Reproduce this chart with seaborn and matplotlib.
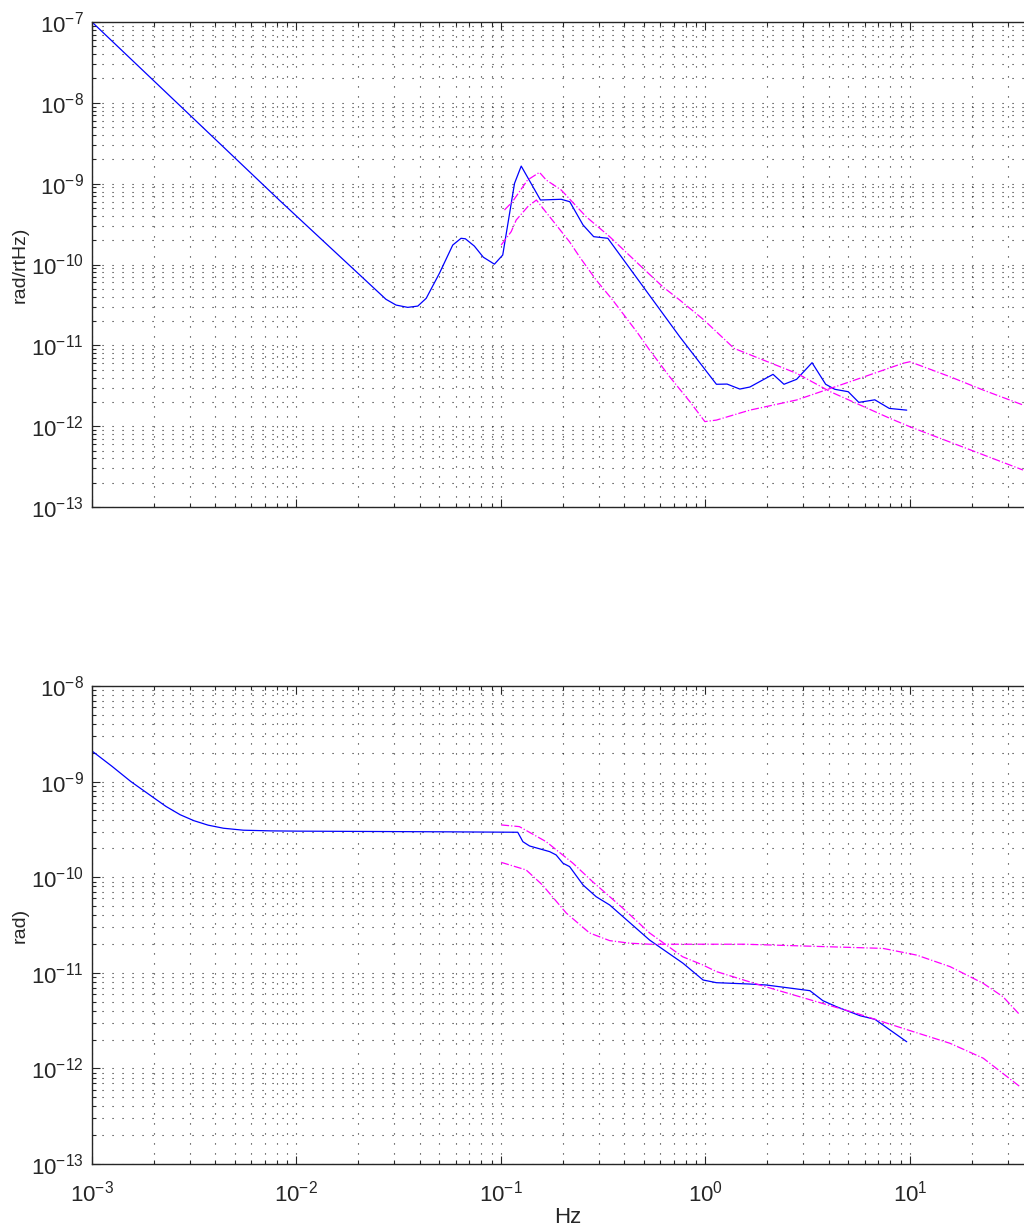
import numpy as np
import pandas as pd
import matplotlib
matplotlib.use("Agg")
import matplotlib.pyplot as plt
from matplotlib.ticker import LogLocator, NullFormatter
import seaborn as sns

sns.set_style("ticks")
plt.rcParams['font.family'] = ['Liberation Sans', 'DejaVu Sans']
plt.rcParams['mathtext.fontset'] = 'custom'
plt.rcParams['mathtext.rm'] = 'Liberation Sans'
plt.rcParams['mathtext.it'] = 'Liberation Sans:italic'
plt.rcParams['mathtext.default'] = 'regular'

# ---- amplitude spectral density (top) ----
asd_f = [0.001, 0.00823, 0.0274, 0.0307, 0.035, 0.0392, 0.0431, 0.050, 0.0581,
         0.0638, 0.067, 0.0741, 0.082, 0.0929, 0.102, 0.1165, 0.1256, 0.156,
         0.197, 0.217, 0.252, 0.284, 0.333, 0.748, 1.131, 1.275, 1.472, 1.647,
         2.14, 2.42, 2.79, 3.32, 3.87, 4.29, 4.99, 5.62, 6.73, 7.92, 9.64]
asd_v = [1e-7, 6.28e-10, 3.71e-11, 3.15e-11, 2.95e-11, 3.06e-11, 3.82e-11,
         7.78e-11, 1.74e-10, 2.11e-10, 2.08e-10, 1.69e-10, 1.23e-10, 1.01e-10,
         1.31e-10, 1.01e-9, 1.65e-9, 6.28e-10, 6.41e-10, 5.98e-10, 3.08e-10,
         2.21e-10, 2.11e-10, 1.28e-11, 3.30e-12, 3.32e-12, 2.88e-12, 3.05e-12,
         4.38e-12, 3.30e-12, 3.80e-12, 6.10e-12, 3.30e-12, 2.86e-12, 2.67e-12,
         1.97e-12, 2.12e-12, 1.66e-12, 1.58e-12]

asd_hi_f = [0.104, 0.1138, 0.1349, 0.1543, 0.1664, 0.197, 0.261, 0.340, 0.476,
            0.618, 0.748, 0.983, 1.379, 2.79, 4.08, 7.98, 10.0, 35.7]
asd_hi_v = [4.72e-10, 5.98e-10, 1.11e-9, 1.38e-9, 1.11e-9, 8.35e-10, 3.90e-10,
            2.21e-10, 9.86e-11, 5.31e-11, 3.64e-11, 2.06e-11, 9.18e-12,
            4.51e-12, 2.67e-12, 1.25e-12, 9.84e-13, 2.87e-13]

asd_lo_f = [0.1002, 0.1122, 0.1187, 0.1352, 0.149, 0.160, 0.183, 0.2164, 0.242,
            0.292, 0.3515, 0.466, 0.533, 0.668, 0.839, 0.993, 1.131, 1.647,
            2.79, 5.09, 9.24, 10.0, 15.7, 22.8, 35.7]
asd_lo_v = [1.74e-10, 2.55e-10, 3.55e-10, 5.19e-10, 6.28e-10, 5.00e-10,
            3.26e-10, 1.91e-10, 1.25e-10, 6.43e-11, 3.64e-11, 1.42e-11,
            8.75e-12, 4.09e-12, 2.01e-12, 1.14e-12, 1.19e-12, 1.58e-12,
            2.11e-12, 3.55e-12, 6.00e-12, 6.27e-12, 4.09e-12, 2.80e-12, 1.83e-12]

# ---- cumulative rms (bottom) ----
rms_f = [0.001, 0.00125, 0.00155, 0.00197, 0.0023, 0.0027, 0.00315, 0.0037,
         0.0044, 0.0055, 0.0075, 0.0103, 0.056, 0.1208, 0.128, 0.138, 0.173,
         0.186, 0.201, 0.2166, 0.252, 0.292, 0.340, 0.533, 0.776, 0.973, 1.131,
         1.647, 1.987, 3.24, 3.75, 4.37, 5.69, 6.74, 9.64]
rms_v = [2.09e-9, 1.45e-9, 1.0e-9, 6.95e-10, 5.5e-10, 4.5e-10, 3.9e-10,
         3.5e-10, 3.25e-10, 3.1e-10, 3.05e-10, 3.03e-10, 2.98e-10, 2.95e-10,
         2.35e-10, 2.12e-10, 1.85e-10, 1.71e-10, 1.40e-10, 1.29e-10, 8.28e-11,
         6.25e-11, 5.12e-11, 2.20e-11, 1.26e-11, 8.41e-12, 7.88e-12, 7.63e-12,
         7.45e-12, 6.50e-12, 5.11e-12, 4.42e-12, 3.56e-12, 3.26e-12, 1.90e-12]

rms_hi_f = [0.1002, 0.123, 0.1664, 0.224, 0.2805, 0.3935, 0.533, 0.774, 0.969,
            1.131, 1.844, 3.49, 5.48, 9.25, 15.7, 22.8, 34.5]
rms_hi_v = [3.52e-10, 3.38e-10, 2.35e-10, 1.41e-10, 8.98e-11, 4.76e-11,
            2.61e-11, 1.47e-11, 1.21e-11, 1.03e-11, 7.45e-12, 4.99e-12,
            3.77e-12, 2.62e-12, 1.83e-12, 1.28e-12, 6.44e-13]

rms_lo_f = [0.1002, 0.1328, 0.1596, 0.2085, 0.271, 0.340, 0.4256, 0.533, 1.556,
            7.38, 10.8, 15.7, 22.8, 28.5, 34.5]
rms_lo_v = [1.43e-10, 1.19e-10, 8.28e-11, 4.22e-11, 2.61e-11, 2.17e-11,
            2.04e-11, 1.99e-11, 1.99e-11, 1.80e-11, 1.53e-11, 1.16e-11,
            7.76e-12, 5.62e-12, 3.62e-12]

x_ticks = [1e-3, 1e-2, 1e-1, 1e0, 1e1]
x_limits = (1e-3, 36.1)

fig = plt.figure(figsize=(10.24, 12.28), dpi=100)
ax1 = fig.add_axes([0.0898, 0.5871, 0.9102, 0.3950])
ax2 = fig.add_axes([0.0898, 0.0521, 0.9102, 0.3893])

grid_kw = dict(color='black', linestyle=(0, (1, 8)), linewidth=0.8, alpha=0.85)


def style_axes(ax, ylim, show_xlabels):
    ax.set_xscale('log')
    ax.set_yscale('log')
    ax.set_xlim(*x_limits)
    ax.set_ylim(*ylim)
    ax.set_xticks(x_ticks)
    ax.xaxis.set_minor_locator(LogLocator(base=10, subs=np.arange(2, 10), numticks=50))
    ax.yaxis.set_major_locator(LogLocator(base=10, numticks=20))
    ax.yaxis.set_minor_locator(LogLocator(base=10, subs=np.arange(2, 10), numticks=50))
    ax.xaxis.set_minor_formatter(NullFormatter())
    ax.yaxis.set_minor_formatter(NullFormatter())
    ax.grid(True, which='both', **grid_kw)
    ax.tick_params(which='both', direction='in', top=True, right=False,
                   labelsize=16, width=0.8)
    ax.tick_params(axis='x', which='major', pad=12)
    ax.tick_params(axis='y', which='major', pad=6)
    ax.tick_params(which='major', length=6)
    ax.tick_params(which='minor', length=3)
    for s in ('left', 'bottom', 'top'):
        ax.spines[s].set_linewidth(1.0)
        ax.spines[s].set_visible(True)
    ax.spines['right'].set_visible(False)
    if not show_xlabels:
        ax.tick_params(axis='x', which='both', labelbottom=False)
    ax.set_axisbelow(True)


style_axes(ax1, (1e-13, 1e-7), False)
style_axes(ax2, (1e-13, 1e-8), True)


def draw(ax, f, v, **kw):
    df = pd.DataFrame({'f': f, 'v': v})
    sns.lineplot(data=df, x='f', y='v', ax=ax, sort=False, estimator=None, **kw)


draw(ax1, asd_f, asd_v, color='#0000ff', linewidth=0.9)
draw(ax1, asd_hi_f, asd_hi_v, color='#ff00ff', linewidth=0.9, linestyle='-.')
draw(ax1, asd_lo_f, asd_lo_v, color='#ff00ff', linewidth=0.9, linestyle='-.')

draw(ax2, rms_f, rms_v, color='#0000ff', linewidth=0.9)
draw(ax2, rms_hi_f, rms_hi_v, color='#ff00ff', linewidth=0.9, linestyle='-.')
draw(ax2, rms_lo_f, rms_lo_v, color='#ff00ff', linewidth=0.9, linestyle='-.')

ax1.set_xlabel('')
ax1.set_ylabel('rad/rtHz)', fontsize=14)
ax2.set_ylabel('rad)', fontsize=14)
ax2.set_xlabel('Hz', fontsize=16)
ax1.yaxis.set_label_coords(-0.068, 0.5)
ax2.yaxis.set_label_coords(-0.068, 0.5)
ax2.xaxis.set_label_coords(0.511, -0.09)

fig.savefig('out.png', dpi=100)
